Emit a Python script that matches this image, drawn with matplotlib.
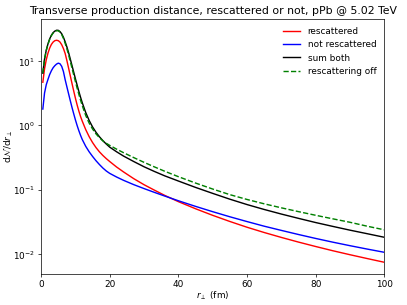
import matplotlib
matplotlib.use("Agg")
import matplotlib.pyplot as plt
from matplotlib.ticker import NullLocator
import numpy as np


# r_perp bin centres (fm)
r = [0.5, 1, 1.5, 2, 2.5, 3, 3.5, 4, 4.5, 5, 5.5, 6, 6.5, 7, 7.5, 8, 8.5, 9, 9.5, 10,
     10.5, 11, 11.5, 12, 13, 14, 15, 16, 17, 18, 19, 20, 22, 24, 27, 30, 33, 36, 40, 45,
     50, 55, 60, 65, 70, 75, 80, 85, 90, 95, 100]

rescattered = [4.7, 7.6, 10.5, 13.3, 16.0, 18.2, 19.8, 20.8, 21.1, 20.8, 19.8, 18.0, 15.7, 13.2, 10.26, 7.83, 5.94, 4.50, 3.44, 2.65,
               2.08, 1.673, 1.375, 1.164, 0.863, 0.670, 0.542, 0.453, 0.389, 0.342, 0.305, 0.275, 0.226, 0.190, 0.149, 0.120, 0.0989, 0.0820, 0.0655, 0.0508,
               0.0401, 0.0322, 0.0262, 0.0217, 0.0182, 0.0154, 0.01315, 0.0113, 0.0098, 0.00855, 0.00748]

not_rescattered = [1.8, 3.2, 4.3, 5.2, 6.2, 7.1, 7.9, 8.5, 9.0, 9.3, 9.1, 8.3, 6.9, 5.17, 4.01, 3.12, 2.43, 1.91, 1.52, 1.22,
                   0.997, 0.829, 0.701, 0.604, 0.474, 0.390, 0.330, 0.283, 0.247, 0.218, 0.196, 0.180, 0.158, 0.1406, 0.1203, 0.1045, 0.0913, 0.0801, 0.0676, 0.0553,
                   0.0457, 0.0381, 0.0321, 0.0272, 0.0234, 0.0202, 0.01755, 0.01536, 0.01354, 0.0120, 0.01069]

sum_both = [6.5, 10.8, 14.8, 18.5, 22.2, 25.3, 27.7, 29.3, 30.2, 30.1, 28.8, 26.6, 23.5, 20.0, 16.7, 13.6, 10.8, 8.55, 6.73, 5.32,
            4.23, 3.38, 2.74, 2.25, 1.59, 1.197, 0.948, 0.783, 0.667, 0.581, 0.514, 0.460, 0.39, 0.335, 0.275, 0.228, 0.193, 0.165, 0.137, 0.109,
            0.088, 0.0715, 0.059, 0.0495, 0.042, 0.036, 0.031, 0.027, 0.0236, 0.0208, 0.0183]

rescatter_off = [6.5, 10.7, 14.6, 18.3, 21.9, 24.9, 27.3, 28.9, 29.7, 29.6, 28.3, 25.9, 22.6, 19.0, 15.6, 12.6, 9.9, 7.8, 6.1, 4.8,
                 3.8, 3.05, 2.47, 2.03, 1.43, 1.09, 0.88, 0.74, 0.645, 0.575, 0.528, 0.490, 0.4285, 0.378, 0.3166, 0.2673, 0.2273, 0.1945, 0.160, 0.1274,
                 0.1028, 0.0841, 0.0708, 0.0606, 0.0525, 0.0458, 0.0402, 0.0354, 0.0313, 0.0272, 0.0239]


def main():
    fig = plt.figure(figsize=(6.4, 4.8), dpi=63.6)
    ax = fig.add_subplot(111)
    fig.subplots_adjust(left=0.101, right=0.944, top=0.938, bottom=0.102)

    ax.plot(r, rescattered, 'r', lw=1.6, label='rescattered')
    ax.plot(r, not_rescattered, 'b', lw=1.6, label='not rescattered')
    ax.plot(r, sum_both, 'k', lw=1.6, label='sum both')
    ax.plot(r, rescatter_off, 'g--', lw=1.6, label='rescattering off')

    ax.set_yscale('log')
    ax.yaxis.set_minor_locator(NullLocator())
    ax.set_xlim(0, 100)
    ax.set_xlabel(r'$r_{\perp}$ (fm)')
    ax.set_ylabel(r'd$\mathcal{N}$/d$r_{\perp}$')
    ax.yaxis.set_label_coords(-0.076, 0.5)
    ax.xaxis.set_label_coords(0.5, -0.06)
    ax.set_title('Transverse production distance, rescattered or not, pPb @ 5.02 TeV', fontsize=12.4)
    ax.legend(frameon=False, loc='upper right')

    fig.savefig('out.png', dpi=63.6)


if __name__ == "__main__":
    main()
